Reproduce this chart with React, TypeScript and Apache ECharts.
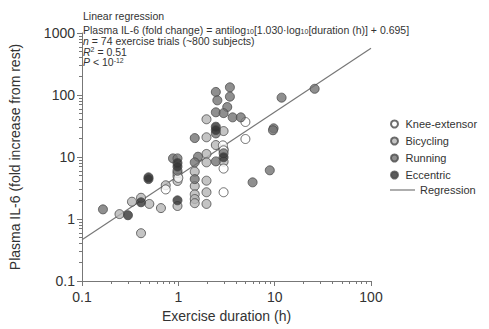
import React, { useEffect, useRef } from "react";
import * as echarts from "echarts";

// ---- data ----
const kneeX = [0.74, 1.0, 2.9, 2.95, 2.95, 2.95, 4.97, 4.97];
const kneeY = [3.0, 4.6, 15.4, 12.8, 6.5, 2.7, 36.7, 19.5];

const bikeX = [0.245, 0.33, 0.41, 0.41, 0.5, 0.66, 0.74, 0.98, 0.98, 0.98, 0.98, 1.48, 1.48, 1.48, 1.48, 1.48, 1.96, 1.96, 1.96, 1.96, 1.96, 1.96, 1.96, 2.45, 2.95, 2.95, 2.95];
const bikeY = [1.2, 1.9, 2.2, 0.59, 1.75, 1.5, 3.5, 1.62, 4.9, 4.1, 5.5, 5.8, 3.4, 2.5, 2.1, 1.8, 40.6, 20.8, 11.2, 8.2, 4.15, 2.7, 1.75, 15.6, 26.2, 13.3, 8.4];

const runX = [0.165, 0.88, 0.98, 0.98, 1.48, 1.6, 1.48, 1.48, 2.45, 2.54, 3.43, 3.43, 3.22, 2.45, 2.95, 3.66, 4.45, 2.45, 2.95, 2.45, 5.9, 8.9, 9.75, 9.6, 11.8, 26];
const runY = [1.43, 9.5, 9.5, 6.0, 20.2, 10.1, 8.2, 4.4, 112, 82, 133, 94, 64, 52.6, 51, 43.6, 43.6, 24, 11.5, 8.5, 3.9, 6.1, 29, 27, 90.6, 126];

const eccX = [0.3, 0.41, 0.49, 0.49, 0.98, 0.98, 0.98, 2.45, 2.45, 2.95];
const eccY = [1.15, 1.86, 4.7, 4.4, 8.0, 7.0, 2.0, 30.8, 27.2, 9.9];

// regression given in the chart: log10(y) = 1.030 * log10(x) + 0.695
const regSlope = 1.03;
const regIntercept = 0.695;
const regX = [0.1, 100];

const xMajor = [0.1, 1, 10, 100];
const yMajor = [0.1, 1, 10, 100, 1000];
const minorMultipliers = [2, 3, 4, 5, 6, 7, 8, 9];

const minorsFor = (majors: number[]) => {
  const out: number[] = [];
  for (let i = 0; i < majors.length - 1; i++) {
    for (const m of minorMultipliers) out.push(+(majors[i] * m).toPrecision(6));
  }
  return out;
};

const pairs = (xs: number[], ys: number[]) => xs.map((x, i) => [x, ys[i]]);

const FONT = "'Liberation Sans', Arial, Helvetica, sans-serif";
const AXIS = "#777";
const TXT = "#333";

export default function App() {
  const ref = useRef<HTMLDivElement>(null);
  useEffect(() => {
    if (!ref.current) return;
    const chart = echarts.init(ref.current, undefined, { renderer: "svg" });
    const fmt = (v: number) => String(+(+v).toPrecision(6));
    const regData = regX.map((x) => [x, Math.pow(10, regSlope * Math.log10(x) + regIntercept)]);
    const border = { borderColor: "#4a4a4a", borderWidth: 1 };
    const rich = {
      sub: { fontSize: 7, lineHeight: 7, verticalAlign: "bottom", fontFamily: FONT, fill: TXT },
      sup: { fontSize: 7, lineHeight: 7, verticalAlign: "top", fontFamily: FONT, fill: TXT },
      it: { fontStyle: "italic", fontSize: 10.5, fontFamily: FONT, fill: TXT },
    };
    const annot = (text: string, y: number) => ({
      type: "text",
      x: 83,
      y,
      style: { text, fontSize: 10.5, fontFamily: FONT, fill: TXT, verticalAlign: "middle", rich },
    });

    chart.setOption({
      animation: false,
      textStyle: { fontFamily: FONT },
      grid: { left: 78, right: 118, top: 33, bottom: 48 },
      xAxis: [
        {
          type: "log",
          logBase: 10,
          min: 0.1,
          max: 100,
          position: "bottom",
          axisLine: { lineStyle: { color: AXIS, width: 1 } },
          axisTick: { show: true, length: 5, lineStyle: { color: AXIS } },
          axisLabel: { fontSize: 14, color: TXT, margin: 9, formatter: fmt, fontFamily: FONT },
          splitLine: { show: false },
          name: "Exercise duration (h)",
          nameLocation: "middle",
          nameGap: 24,
          nameTextStyle: { fontSize: 14, color: TXT, fontFamily: FONT },
        },
        {
          type: "log",
          logBase: 10,
          min: 0.1,
          max: 100,
          position: "bottom",
          axisLine: { show: false },
          axisTick: { show: true, length: 3, customValues: minorsFor(xMajor), lineStyle: { color: AXIS } },
          axisLabel: { show: false },
          splitLine: { show: false },
        },
      ],
      yAxis: [
        {
          type: "log",
          logBase: 10,
          min: 0.1,
          max: 1000,
          position: "left",
          axisLine: { show: true, lineStyle: { color: AXIS, width: 1 } },
          axisTick: { show: true, length: 5, lineStyle: { color: AXIS } },
          axisLabel: { fontSize: 14, color: TXT, margin: 7, formatter: fmt, fontFamily: FONT },
          splitLine: { show: false },
          name: "Plasma IL-6 (fold increase from rest)",
          nameLocation: "middle",
          nameGap: 60,
          nameTextStyle: { fontSize: 14, color: TXT, fontFamily: FONT },
        },
        {
          type: "log",
          logBase: 10,
          min: 0.1,
          max: 1000,
          position: "left",
          axisLine: { show: false },
          axisTick: { show: true, length: 3, customValues: minorsFor(yMajor), lineStyle: { color: AXIS } },
          axisLabel: { show: false },
          splitLine: { show: false },
        },
      ],
      legend: [
        {
          data: ["Knee-extensor", "Bicycling", "Running", "Eccentric"],
          orient: "vertical",
          left: 390,
          top: 118,
          padding: 0,
          itemWidth: 12,
          itemHeight: 7,
          itemGap: 5,
          icon: "circle",
          textStyle: { fontSize: 11, color: TXT, lineHeight: 12, fontFamily: FONT },
        },
        {
          data: [{ name: "Regression", icon: "rect" }],
          orient: "vertical",
          left: 390,
          top: 184,
          padding: 0,
          itemWidth: 25,
          itemHeight: 1.2,
          textStyle: { fontSize: 11, color: TXT, lineHeight: 12, fontFamily: FONT },
        },
      ],
      series: [
        {
          name: "Regression",
          type: "line",
          data: regData,
          symbol: "none",
          lineStyle: { color: "#777", width: 1.2 },
          itemStyle: { color: "#777" },
          z: 1,
        },
        {
          name: "Bicycling",
          type: "scatter",
          data: pairs(bikeX, bikeY),
          symbolSize: 9,
          itemStyle: { color: "#b5b5b5", ...border },
          z: 2,
        },
        {
          name: "Knee-extensor",
          type: "scatter",
          data: pairs(kneeX, kneeY),
          symbolSize: 9,
          itemStyle: { color: "#ffffff", ...border },
          z: 2,
        },
        {
          name: "Running",
          type: "scatter",
          data: pairs(runX, runY),
          symbolSize: 9,
          itemStyle: { color: "#737373", ...border },
          z: 2,
        },
        {
          name: "Eccentric",
          type: "scatter",
          data: pairs(eccX, eccY),
          symbolSize: 9,
          itemStyle: { color: "#333333", ...border },
          z: 2,
        },
      ],
      graphic: [
        annot("Linear regression", 16),
        annot("Plasma IL-6 (fold change) = antilog{sub|10}[1.030·log{sub|10}[duration (h)] + 0.695]", 29.5),
        annot("{it|n} = 74 exercise trials (~800 subjects)", 41),
        annot("{it|R}{sup|2} = 0.51", 51.5),
        annot("{it|P} < 10{sup|-12}", 62),
      ],
    });
    return () => chart.dispose();
  }, []);
  return <div ref={ref} style={{ position: "absolute", left: 0, top: 0, width: 489, height: 329 }} />;
}
